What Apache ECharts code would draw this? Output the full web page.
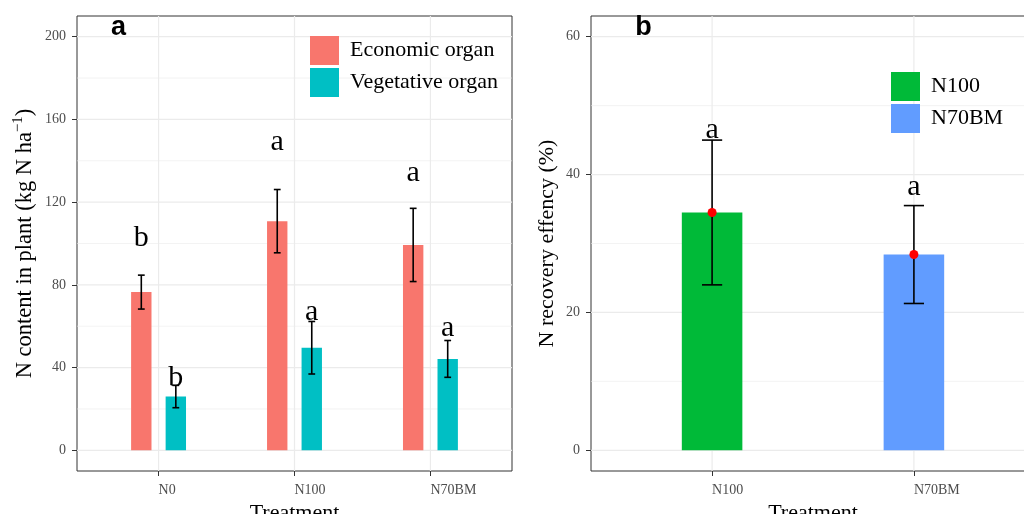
<!DOCTYPE html>
<html>
<head>
<meta charset="utf-8">
<script src="https://cdn.jsdelivr.net/npm/echarts@6/dist/echarts.min.js"></script>
<style>html,body{margin:0;padding:0;background:#fff;}#c{width:1024px;height:514px;}</style>
</head>
<body>
<div id="c"></div>
<script>
// ---------- data ----------
const categoriesA = ['N0', 'N100', 'N70BM'];
const economic = [76.5, 110.8, 99.3];
const economicSd = [8.2, 15.3, 17.7];
const vegetative = [26.0, 49.6, 44.2];
const vegetativeSd = [5.4, 12.7, 8.9];
const economicLetters = ['b', 'a', 'a'];
const economicLetterY = [102.7, 149.0, 134.1];
const vegetativeLetters = ['b', 'a', 'a'];
const vegetativeLetterY = [34.9, 66.8, 59.3];
const yTicksA = [0, 40, 80, 120, 160, 200];
const yMinorA = [20, 60, 100, 140, 180];

const categoriesB = ['N100', 'N70BM'];
const recovery = [34.5, 28.4];
const recoverySd = [10.5, 7.1];
const recoveryLetters = ['a', 'a'];
const recoveryLetterY = [46.4, 38.2];
const yTicksB = [0, 20, 40, 60];
const yMinorB = [10, 30, 50];

// ---------- helpers ----------
const SERIF = '"Liberation Serif", "Times New Roman", serif';
const chart = echarts.init(document.getElementById('c'), null, {renderer: 'canvas'});

function hLines(width) {
  return function (params, api) {
    const cs = params.coordSys;
    const y = api.coord([1, api.value(0)])[1];
    return {type: 'line', shape: {x1: cs.x, y1: y, x2: cs.x + cs.width, y2: y},
      style: {stroke: '#ebebeb', lineWidth: width}};
  };
}
function vLines(width) {
  return function (params, api) {
    const cs = params.coordSys;
    const x = api.coord([api.value(0), 0])[0];
    return {type: 'line', shape: {x1: x, y1: cs.y, x2: x, y2: cs.y + cs.height},
      style: {stroke: '#ebebeb', lineWidth: width}};
  };
}
function barRender(offset, w) {
  return function (params, api) {
    const x = api.value(0), v = api.value(1);
    const p0 = api.coord([x + offset - w / 2, v]);
    const p1 = api.coord([x + offset + w / 2, 0]);
    return {type: 'rect', shape: {x: p0[0], y: p0[1], width: p1[0] - p0[0], height: p1[1] - p0[1]},
      style: {fill: api.visual('color')}};
  };
}
function errRender(offset, capW) {
  return function (params, api) {
    const x = api.value(0) + offset, v = api.value(1), sd = api.value(2);
    const top = api.coord([x, v + sd]);
    const bot = api.coord([x, v - sd]);
    const cl = api.coord([x - capW / 2, v])[0];
    const cr = api.coord([x + capW / 2, v])[0];
    const st = {stroke: '#000', lineWidth: 1.6};
    return {type: 'group', children: [
      {type: 'line', shape: {x1: top[0], y1: top[1], x2: bot[0], y2: bot[1]}, style: st},
      {type: 'line', shape: {x1: cl, y1: top[1], x2: cr, y2: top[1]}, style: st},
      {type: 'line', shape: {x1: cl, y1: bot[1], x2: cr, y2: bot[1]}, style: st}
    ]};
  };
}
function letterRender(offset, letters) {
  return function (params, api) {
    const p = api.coord([api.value(0) + offset, api.value(1)]);
    return {type: 'text', x: p[0], y: p[1],
      style: {text: letters[params.dataIndex], fontFamily: SERIF, fontSize: 30, fill: '#000',
        align: 'center', verticalAlign: 'middle'}};
  };
}
function dotRender(params, api) {
  const p = api.coord([api.value(0), api.value(1)]);
  return {type: 'circle', shape: {cx: p[0], cy: p[1], r: 4.5}, style: {fill: '#ff0000'}};
}

const OFF = 0.127, BW = 0.15;

const xAxisBase = {
  type: 'value', splitLine: {show: false}, axisLine: {show: false, onZero: false},
  axisTick: {show: true, length: 5, lineStyle: {color: '#333', width: 1}},
  nameLocation: 'middle', nameGap: 19,
  nameTextStyle: {fontFamily: SERIF, fontSize: 22, color: '#000'}
};
const yAxisBase = {
  type: 'value', splitLine: {show: false}, axisLine: {show: false, onZero: false},
  axisTick: {show: true, length: 5, lineStyle: {color: '#333', width: 1}},
  nameLocation: 'middle', nameRotate: 90,
  nameTextStyle: {fontFamily: SERIF, fontSize: 22, color: '#000'}
};

const option = {
  backgroundColor: '#fff',
  animation: false,
  grid: [
    {left: 77, top: 16, width: 435, height: 455, show: true, borderColor: '#333', borderWidth: 1,
      backgroundColor: 'transparent', containLabel: false, outerBoundsMode: 'none'},
    {left: 591, top: 16, width: 444, height: 455, show: true, borderColor: '#333', borderWidth: 1,
      backgroundColor: 'transparent', containLabel: false, outerBoundsMode: 'none'}
  ],
  xAxis: [
    Object.assign({}, xAxisBase, {gridIndex: 0, min: 0.4, max: 3.6, name: 'Treatment',
      axisTick: Object.assign({}, xAxisBase.axisTick, {customValues: [1, 2, 3]}),
      axisLabel: {customValues: [1, 2, 3], formatter: v => categoriesA[Math.round(v) - 1],
        align: 'left', margin: 12, fontFamily: SERIF, fontSize: 14, color: '#4d4d4d'}}),
    Object.assign({}, xAxisBase, {gridIndex: 1, min: 0.4, max: 2.6, name: 'Treatment',
      axisTick: Object.assign({}, xAxisBase.axisTick, {customValues: [1, 2]}),
      axisLabel: {customValues: [1, 2], formatter: v => categoriesB[Math.round(v) - 1],
        align: 'left', margin: 12, fontFamily: SERIF, fontSize: 14, color: '#4d4d4d'}})
  ],
  yAxis: [
    Object.assign({}, yAxisBase, {gridIndex: 0, min: -10, max: 210, nameGap: 38,
      name: '{t|N content in plant (kg N ha}{s|\u22121}{t|)}',
      nameTextStyle: {fontFamily: SERIF, fontSize: 22.5, color: '#000',
        rich: {t: {fontFamily: SERIF, fontSize: 22.5, color: '#000', lineHeight: 28, verticalAlign: 'middle'},
               s: {fontFamily: SERIF, fontSize: 15, color: '#000', verticalAlign: 'top'}}},
      axisTick: Object.assign({}, yAxisBase.axisTick, {customValues: yTicksA}),
      axisLabel: {customValues: yTicksA, margin: 11, fontFamily: SERIF, fontSize: 14, color: '#4d4d4d'}}),
    Object.assign({}, yAxisBase, {gridIndex: 1, min: -3, max: 63, nameGap: 33,
      name: 'N recovery effency (%)',
      axisTick: Object.assign({}, yAxisBase.axisTick, {customValues: yTicksB}),
      axisLabel: {customValues: yTicksB, margin: 11, fontFamily: SERIF, fontSize: 14, color: '#4d4d4d'}})
  ],
  legend: [
    {data: ['Economic organ', 'Vegetative organ'], left: 310, top: 36, orient: 'vertical', padding: 0,
      icon: 'rect', itemWidth: 29, itemHeight: 29, itemGap: 3, selectedMode: false,
      textStyle: {fontFamily: SERIF, fontSize: 22, color: '#000', padding: [0, 0, 0, 6]}},
    {data: ['N100', 'N70BM'], left: 891, top: 72, orient: 'vertical', padding: 0,
      icon: 'rect', itemWidth: 29, itemHeight: 29, itemGap: 3, selectedMode: false,
      textStyle: {fontFamily: SERIF, fontSize: 22, color: '#000', padding: [0, 0, 0, 6]}}
  ],
  graphic: [
    {type: 'text', x: 118.5, y: 28, style: {text: 'a', fontFamily: '"Liberation Sans", Arial, sans-serif', fontWeight: 'bold', fontSize: 27, fill: '#000', align: 'center', verticalAlign: 'middle'}},
    {type: 'text', x: 643.5, y: 28, style: {text: 'b', fontFamily: '"Liberation Sans", Arial, sans-serif', fontWeight: 'bold', fontSize: 27, fill: '#000', align: 'center', verticalAlign: 'middle'}}
  ],
  series: [
    // grid lines panel a
    {type: 'custom', xAxisIndex: 0, yAxisIndex: 0, z: 0, silent: true, renderItem: hLines(0.6), data: yMinorA.map(v => [v])},
    {type: 'custom', xAxisIndex: 0, yAxisIndex: 0, z: 0, silent: true, renderItem: hLines(1.2), data: yTicksA.map(v => [v])},
    {type: 'custom', xAxisIndex: 0, yAxisIndex: 0, z: 0, silent: true, renderItem: vLines(1.2), data: categoriesA.map((c, i) => [i + 1])},
    // grid lines panel b
    {type: 'custom', xAxisIndex: 1, yAxisIndex: 1, z: 0, silent: true, renderItem: hLines(0.6), data: yMinorB.map(v => [v])},
    {type: 'custom', xAxisIndex: 1, yAxisIndex: 1, z: 0, silent: true, renderItem: hLines(1.2), data: yTicksB.map(v => [v])},
    {type: 'custom', xAxisIndex: 1, yAxisIndex: 1, z: 0, silent: true, renderItem: vLines(1.2), data: categoriesB.map((c, i) => [i + 1])},
    // panel a bars
    {name: 'Economic organ', type: 'custom', xAxisIndex: 0, yAxisIndex: 0, z: 2, itemStyle: {color: '#F8766D'},
      renderItem: barRender(-OFF, BW), data: economic.map((v, i) => [i + 1, v])},
    {name: 'Vegetative organ', type: 'custom', xAxisIndex: 0, yAxisIndex: 0, z: 2, itemStyle: {color: '#00BFC4'},
      renderItem: barRender(OFF, BW), data: vegetative.map((v, i) => [i + 1, v])},
    {type: 'custom', xAxisIndex: 0, yAxisIndex: 0, z: 3, silent: true, renderItem: errRender(-OFF, 0.05),
      data: economic.map((v, i) => [i + 1, v, economicSd[i]])},
    {type: 'custom', xAxisIndex: 0, yAxisIndex: 0, z: 3, silent: true, renderItem: errRender(OFF, 0.05),
      data: vegetative.map((v, i) => [i + 1, v, vegetativeSd[i]])},
    {type: 'custom', xAxisIndex: 0, yAxisIndex: 0, z: 4, silent: true, renderItem: letterRender(-OFF, economicLetters),
      data: economicLetterY.map((v, i) => [i + 1, v])},
    {type: 'custom', xAxisIndex: 0, yAxisIndex: 0, z: 4, silent: true, renderItem: letterRender(OFF, vegetativeLetters),
      data: vegetativeLetterY.map((v, i) => [i + 1, v])},
    // panel b bars
    {name: 'N100', type: 'custom', xAxisIndex: 1, yAxisIndex: 1, z: 2, itemStyle: {color: '#00BA38'},
      renderItem: barRender(0, 0.3), data: [[1, recovery[0]]]},
    {name: 'N70BM', type: 'custom', xAxisIndex: 1, yAxisIndex: 1, z: 2, itemStyle: {color: '#619CFF'},
      renderItem: barRender(0, 0.3), data: [[2, recovery[1]]]},
    {type: 'custom', xAxisIndex: 1, yAxisIndex: 1, z: 3, silent: true, renderItem: errRender(0, 0.1),
      data: recovery.map((v, i) => [i + 1, v, recoverySd[i]])},
    {type: 'custom', xAxisIndex: 1, yAxisIndex: 1, z: 4, silent: true, renderItem: dotRender,
      data: recovery.map((v, i) => [i + 1, v])},
    {type: 'custom', xAxisIndex: 1, yAxisIndex: 1, z: 4, silent: true, renderItem: letterRender(0, recoveryLetters),
      data: recoveryLetterY.map((v, i) => [i + 1, v])}
  ]
};
chart.setOption(option);
</script>
</body>
</html>
